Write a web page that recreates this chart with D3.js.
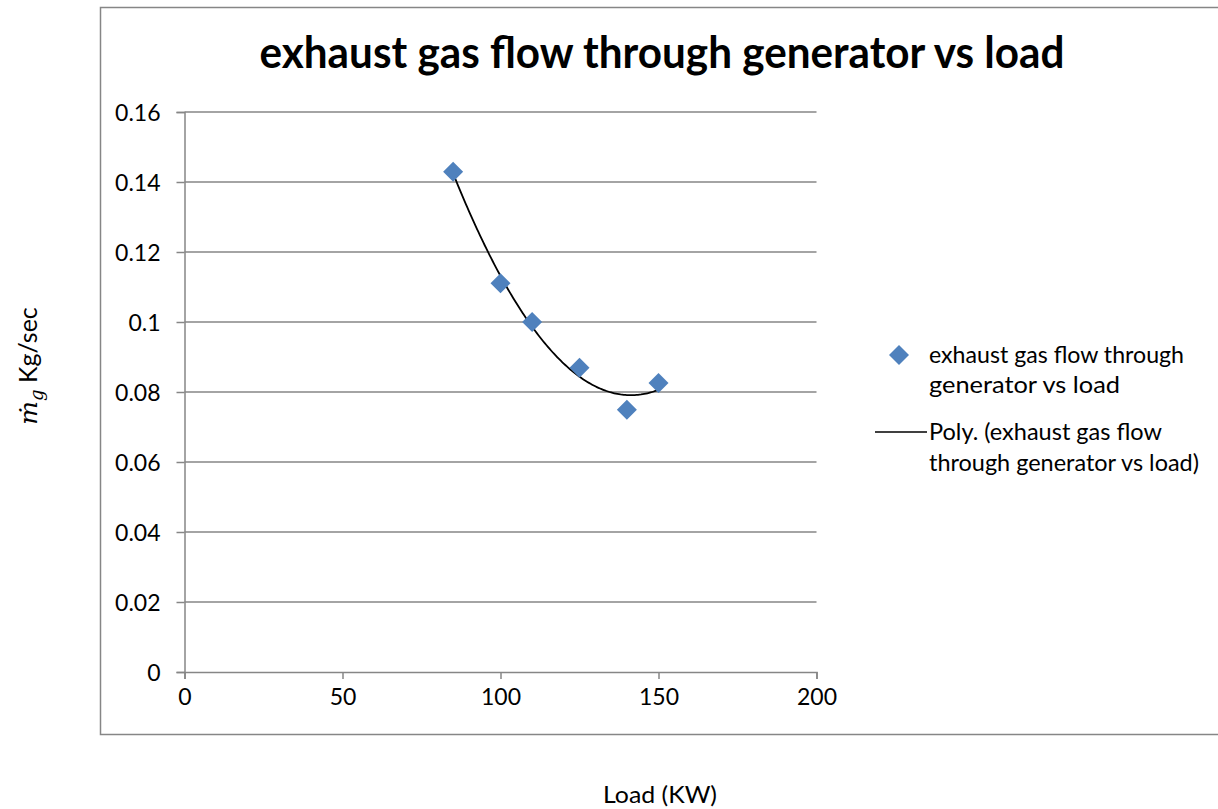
<!DOCTYPE html>
<html>
<head>
<meta charset="utf-8">
<script src="https://cdn.jsdelivr.net/npm/d3@7"></script>
<style>
  html, body { margin: 0; padding: 0; background: #fff; }
  text { font-family: Lato, "Open Sans", sans-serif; fill: #000; }
</style>
</head>
<body>
<div id="chart"></div>
<script>
const loadKW = [85, 100, 110, 125, 140, 150]
const gasFlow = [0.1429, 0.1111, 0.1000, 0.0869, 0.0749, 0.0826]
const xTicks = [0, 50, 100, 150, 200]
const yTicks = [0, 0.02, 0.04, 0.06, 0.08, 0.1, 0.12, 0.14, 0.16]
const seriesName = "exhaust gas flow through generator vs load"
const polyOrder = 2

const width = 1218
const height = 809
const margin = { left: 184.5, right: 1218 - 816.5, top: 112, bottom: 809 - 672 }
const fs = 23

const svg = d3.select("#chart")
  .append("svg")
  .attr("width", width)
  .attr("height", height)

// outer chart border (right edge runs off the picture)
svg.append("rect")
  .attr("x", 100.5).attr("y", 7.5)
  .attr("width", 1200).attr("height", 727)
  .attr("fill", "none")
  .attr("stroke", "#868686")
  .attr("stroke-width", 1.5)

const x = d3.scaleLinear().domain([0, 200]).range([margin.left, width - margin.right])
const y = d3.scaleLinear().domain([0, 0.16]).range([height - margin.bottom, margin.top])

// gridlines
svg.append("g")
  .selectAll("line")
  .data(yTicks.slice(1))
  .join("line")
  .attr("x1", x(0)).attr("x2", x(200))
  .attr("y1", d => y(d)).attr("y2", d => y(d))
  .attr("stroke", "#868686")
  .attr("stroke-width", 1.5)

// axes
const yAxis = svg.append("g")
  .attr("transform", `translate(${x(0)},0)`)
  .call(d3.axisLeft(y).tickValues(yTicks).tickFormat(d => String(+d.toFixed(2))).tickSize(8).tickPadding(16))
const xAxis = svg.append("g")
  .attr("transform", `translate(0,${y(0)})`)
  .call(d3.axisBottom(x).tickValues(xTicks).tickSize(7).tickPadding(10))

for (const ax of [xAxis, yAxis]) {
  ax.select(".domain").attr("stroke", "#868686").attr("stroke-width", 1.5)
  ax.selectAll(".tick line").attr("stroke", "#868686").attr("stroke-width", 1.5)
  ax.selectAll(".tick text").attr("font-size", fs).attr("font-family", "Lato, sans-serif").attr("fill", "#000")
}
yAxis.selectAll(".tick text").attr("dy", "0.36em")

// polynomial trendline (least squares, like a spreadsheet "Poly." trendline)
function polyFit(xs, ys, order) {
  const n = order + 1
  const A = Array.from({ length: n }, () => new Array(n + 1).fill(0))
  for (let i = 0; i < xs.length; i++) {
    for (let r = 0; r < n; r++) {
      for (let c = 0; c < n; c++) A[r][c] += Math.pow(xs[i], r + c)
      A[r][n] += ys[i] * Math.pow(xs[i], r)
    }
  }
  for (let p = 0; p < n; p++) {
    let m = p
    for (let r = p + 1; r < n; r++) if (Math.abs(A[r][p]) > Math.abs(A[m][p])) m = r
    ;[A[p], A[m]] = [A[m], A[p]]
    for (let r = 0; r < n; r++) {
      if (r === p) continue
      const f = A[r][p] / A[p][p]
      for (let c = p; c <= n; c++) A[r][c] -= f * A[p][c]
    }
  }
  return A.map((row, i) => row[n] / row[i])
}
const coef = polyFit(loadKW, gasFlow, polyOrder)
const fitY = v => coef.reduce((s, c, i) => s + c * Math.pow(v, i), 0)
const fitX = d3.range(d3.min(loadKW), d3.max(loadKW) + 0.01, 0.5)

svg.append("path")
  .datum(fitX)
  .attr("fill", "none")
  .attr("stroke", "#000")
  .attr("stroke-width", 1.8)
  .attr("d", d3.line().x(d => x(d)).y(d => y(fitY(d))))

// markers
const diamond = d3.symbol().type(d3.symbolSquare).size(200)
svg.append("g")
  .selectAll("path")
  .data(loadKW.map((v, i) => [v, gasFlow[i]]))
  .join("path")
  .attr("d", diamond)
  .attr("transform", d => `translate(${x(d[0])},${y(d[1])}) rotate(45)`)
  .attr("fill", "#4F81BD")

// title
svg.append("text")
  .attr("x", 662).attr("y", 68)
  .attr("text-anchor", "middle")
  .attr("font-size", 44)
  .attr("font-weight", "bold")
  .attr("textLength", 805)
  .attr("lengthAdjust", "spacingAndGlyphs")
  .text(seriesName)

// axis titles
svg.append("text")
  .attr("x", 660).attr("y", 803)
  .attr("text-anchor", "middle")
  .attr("font-size", fs)
  .attr("textLength", 114)
  .attr("lengthAdjust", "spacingAndGlyphs")
  .text("Load (KW)")

const yl = svg.append("text")
  .attr("transform", "translate(37,366) rotate(-90)")
  .attr("text-anchor", "middle")
  .attr("font-size", 25)
yl.append("tspan").attr("font-family", "DejaVu Serif").attr("font-style", "italic").text("ṁ")
yl.append("tspan").attr("font-family", "DejaVu Serif").attr("font-style", "italic").attr("font-size", 18).attr("dy", 6).text("g")
yl.append("tspan").attr("dy", -6).text(" Kg/sec")

// legend
const lg = svg.append("g")
lg.append("path")
  .attr("d", diamond)
  .attr("transform", "translate(899,355) rotate(45)")
  .attr("fill", "#4F81BD")
const legendLines = [
  [363, "exhaust gas flow through", 255],
  [393, "generator vs load", 191],
  [440, "Poly. (exhaust gas flow", 233],
  [471, "through generator vs load)", 270]
]
lg.selectAll("text")
  .data(legendLines)
  .join("text")
  .attr("x", 929)
  .attr("y", d => d[0])
  .attr("font-size", fs)
  .attr("textLength", d => d[2])
  .attr("lengthAdjust", "spacingAndGlyphs")
  .text(d => d[1])
lg.append("line")
  .attr("x1", 875).attr("x2", 927).attr("y1", 432).attr("y2", 432)
  .attr("stroke", "#000").attr("stroke-width", 1.6)
</script>
</body>
</html>
